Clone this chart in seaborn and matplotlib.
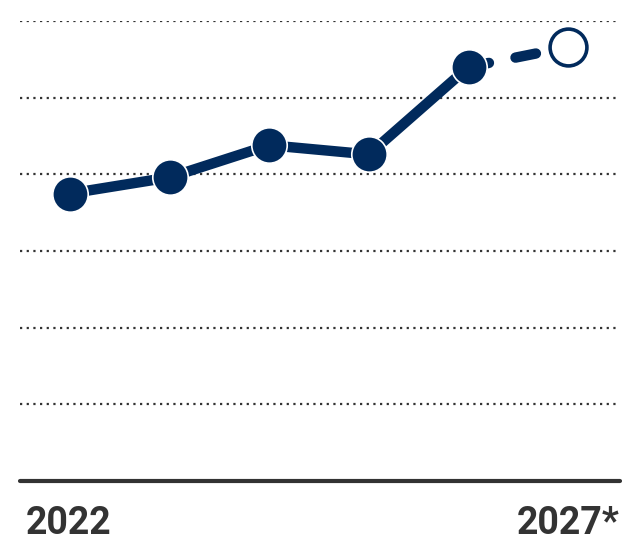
import matplotlib
matplotlib.use("Agg")
import matplotlib.pyplot as plt
import seaborn as sns
import pandas as pd

years = ["2022", "2023", "2024", "2025", "2026", "2027*"]
values = [3.75, 3.96, 4.38, 4.26, 5.40, 5.66]
is_forecast = [False, False, False, False, False, True]

NAVY = "#012a5c"
GRAY = "#333333"

sns.set_theme(style="white")
plt.rcParams["font.family"] = ["Roboto", "DejaVu Sans"]

df = pd.DataFrame({"pos": range(len(years)), "year": years, "value": values, "forecast": is_forecast})
actual = df[~df["forecast"]]
fc_seg = df.iloc[-2:]
fc_pt = df[df["forecast"]]

W, H = 639, 542
fig = plt.figure(figsize=(W / 100, H / 100), dpi=100)
ax = fig.add_axes([20 / W, (H - 481) / H, 600 / W, 460 / H])

# gridlines
for g in range(1, 7):
    ax.axhline(g, color=GRAY, lw=1.6, linestyle=(0, (1, 2)), zorder=1)
ax.axhline(0, color=GRAY, lw=3, zorder=2, clip_on=False)

# dashed forecast segment
sns.lineplot(data=fc_seg, x="pos", y="value", ax=ax, color=NAVY, lw=7.5,
             linestyle=(0, (2.0, 2.6)), dash_capstyle="round", zorder=3, legend=False)
# solid actual line
sns.lineplot(data=actual, x="pos", y="value", ax=ax, color=NAVY, lw=7.5,
             solid_capstyle="round", zorder=4, legend=False)
# actual markers
sns.scatterplot(data=actual, x="pos", y="value", ax=ax, color=NAVY, s=25.5 ** 2,
                edgecolor="white", linewidth=1.2, zorder=5, legend=False, clip_on=False)
# forecast marker
sns.scatterplot(data=fc_pt, x="pos", y="value", ax=ax, color="white", s=26.5 ** 2,
                edgecolor=NAVY, linewidth=2.6, zorder=5, legend=False, clip_on=False)

ax.set_xlim(-0.5, 5.52)
ax.set_ylim(0, 6)
ax.set_xticks([-0.44, 5.52])
ax.set_xticklabels([years[0], years[-1]], fontsize=27, fontweight="bold", color=GRAY)
labels = ax.get_xticklabels()
labels[0].set_horizontalalignment("left")
labels[1].set_horizontalalignment("right")
ax.tick_params(axis="x", length=0, pad=17)
ax.set_yticks([])
ax.set_xlabel("")
ax.set_ylabel("")
for s in ax.spines.values():
    s.set_visible(False)

fig.savefig("out.png", dpi=100)
